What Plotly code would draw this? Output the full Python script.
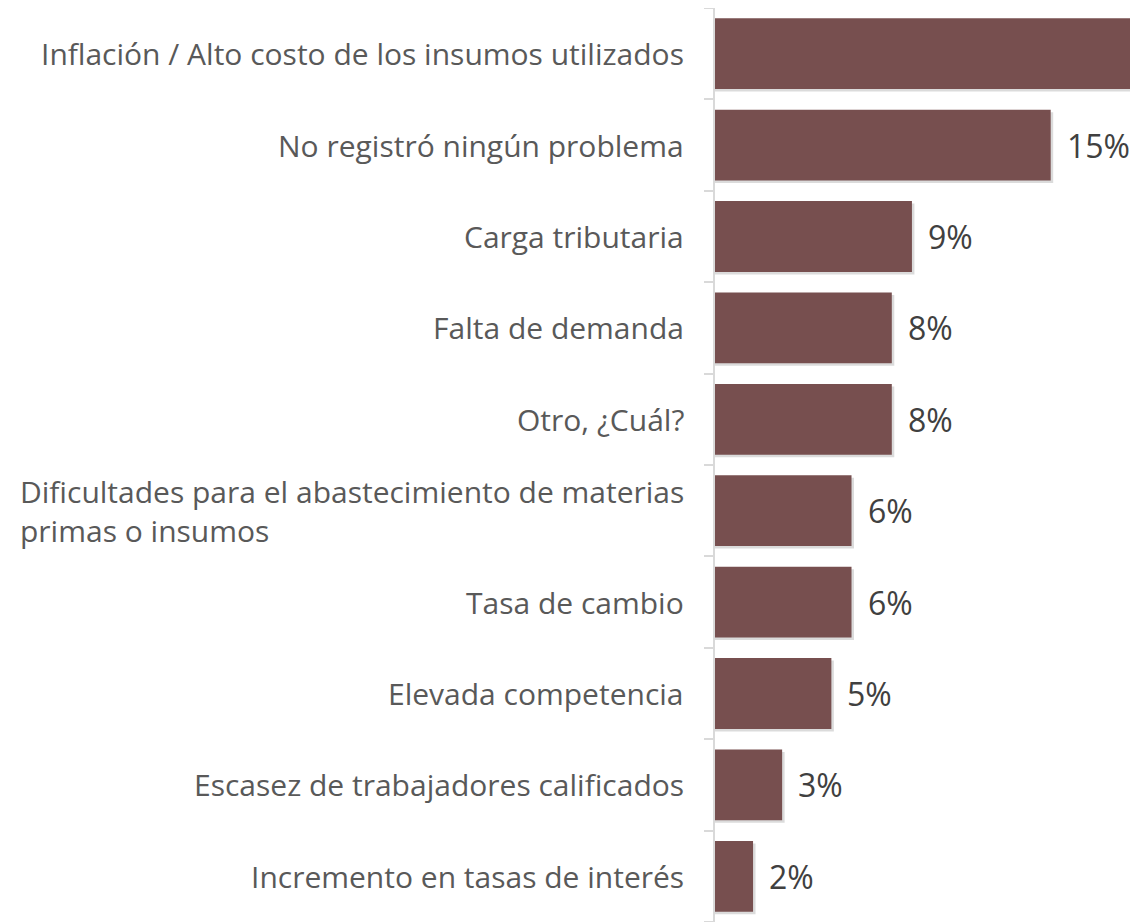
import plotly.graph_objects as go

categories = [
    "Inflación / Alto costo de los insumos utilizados",
    "No registró ningún problema",
    "Carga tributaria",
    "Falta de demanda",
    "Otro, ¿Cuál?",
    "Dificultades para el abastecimiento de materias<br>primas o insumos",
    "Tasa de cambio",
    "Elevada competencia",
    "Escasez de trabajadores calificados",
    "Incremento en tasas de interés",
]
values = [34.0, 15.0, 8.8, 7.9, 7.9, 6.1, 6.1, 5.2, 3.0, 1.7]
value_labels = ["34%", "15%", "9%", "8%", "8%", "6%", "6%", "5%", "3%", "2%"]

BAR = "#774F4F"
TXT_VAL = "#404040"
TXT_CAT = "#595959"
FONT = "Open Sans"

# page body has an 8px margin, so the figure is shifted by 8px
W, H = 1130, 914
L, T = 707, 0
plot_w = W - L
px_per_unit = 22.38
band_px = H / len(categories)
bar_w = 0.775
sh_px = 2.5

fig = go.Figure()
# soft drop shadow
fig.add_trace(go.Bar(
    y=categories,
    x=[v + sh_px / px_per_unit for v in values],
    orientation="h",
    width=bar_w,
    offset=-bar_w / 2 - sh_px / band_px,
    marker=dict(color="rgba(0,0,0,0.14)", line=dict(width=0)),
    hoverinfo="skip",
))
fig.add_trace(go.Bar(
    y=categories,
    x=values,
    orientation="h",
    width=bar_w,
    offset=-bar_w / 2,
    marker=dict(color=BAR, line=dict(width=0)),
    hoverinfo="skip",
))

for cat, v, lab in zip(categories, values, value_labels):
    fig.add_annotation(
        xref="paper", yref="y",
        x=-29 / plot_w, y=cat,
        text=cat,
        showarrow=False,
        xanchor="right", yanchor="middle",
        align="left",
        font=dict(family=FONT, size=30, color=TXT_CAT),
    )
    if v * px_per_unit + 60 < plot_w:
        fig.add_annotation(
            xref="x", yref="y",
            x=v, y=cat,
            text=lab,
            showarrow=False,
            xanchor="left", yanchor="middle",
            xshift=14,
            font=dict(family=FONT, size=32, color=TXT_VAL),
        )

fig.update_layout(
    width=W, height=H,
    margin=dict(l=L, r=0, t=T, b=0),
    paper_bgcolor="white",
    plot_bgcolor="white",
    barmode="overlay",
    showlegend=False,
    xaxis=dict(range=[0, plot_w / px_per_unit], visible=False, fixedrange=True),
    yaxis=dict(
        type="category",
        categoryorder="array",
        categoryarray=categories[::-1],
        showticklabels=False,
        showline=True,
        linecolor="#D9D9D9",
        linewidth=2,
        ticks="outside",
        tickson="boundaries",
        ticklen=9,
        tickwidth=2,
        tickcolor="#D9D9D9",
        showgrid=False,
        zeroline=False,
    ),
)

fig.write_html("out.html")
